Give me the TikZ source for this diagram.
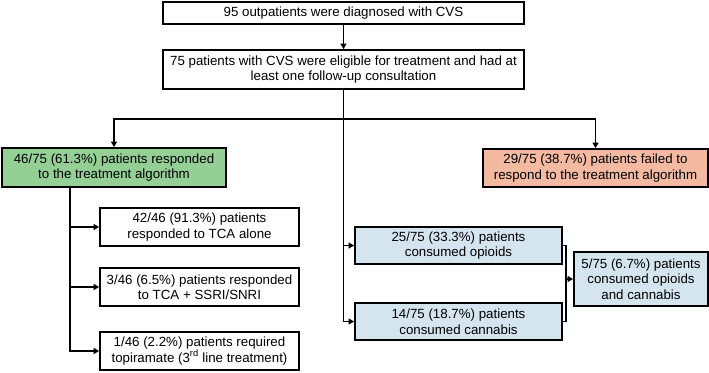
\documentclass[tikz,border=0pt]{standalone}
\usepackage{fontspec}
\setmainfont{Liberation Sans}
\usetikzlibrary{arrows.meta}
\definecolor{gfill}{HTML}{94CF96}
\definecolor{ofill}{HTML}{F3B9A1}
\definecolor{bfill}{HTML}{D5E5F0}
\tikzset{
  box/.style={draw, line width=1.8pt, inner sep=0pt, align=center,
    font=\fontsize{13.3}{15.5}\selectfont},
  conn/.style={line width=1.8pt},
  arr/.style={conn, -{Triangle[length=5.5pt,width=6pt]}}
}
\begin{document}
\begin{tikzpicture}[x=1pt,y=1pt]
\useasboundingbox (0,0) rectangle (709,-372);
\node[box, minimum width=361pt, minimum height=22pt] (b1) at (343.5,-13) {95 outpatients were diagnosed with CVS};
\node[box, minimum width=361pt, minimum height=39pt] (b2) at (343.5,-69.5) {75 patients with CVS were eligible for treatment and had at\\least one follow-up consultation};
\node[box, fill=gfill, minimum width=224pt, minimum height=39pt] (green) at (114,-167.5) {46/75 (61.3\%) patients responded\\to the treatment algorithm};
\node[box, fill=ofill, minimum width=225pt, minimum height=38pt] (orange) at (595.5,-168) {29/75 (38.7\%) patients failed to\\respond to the treatment algorithm};
\node[box, minimum width=199pt, minimum height=38pt] (l1) at (199.5,-227) {42/46 (91.3\%) patients\\responded to TCA alone};
\node[box, minimum width=199pt, minimum height=38pt] (l2) at (199.5,-287) {3/46 (6.5\%) patients responded\\to TCA + SSRI/SNRI};
\node[box, minimum width=199pt, minimum height=38pt] (l3) at (199.5,-351) {1/46 (2.2\%) patients required\\topiramate (3\textsuperscript{rd} line treatment)};
\node[box, fill=bfill, minimum width=207pt, minimum height=37pt] (o1) at (458.5,-245.5) {25/75 (33.3\%) patients\\consumed opioids};
\node[box, fill=bfill, minimum width=207pt, minimum height=37pt] (c1) at (458.5,-321.5) {14/75 (18.7\%) patients\\consumed cannabis};
\node[box, fill=bfill, minimum width=134pt, minimum height=54pt] (both) at (641,-279) {5/75 (6.7\%) patients\\consumed opioids\\and cannabis};
\coordinate (j) at (343.5,-119);
\coordinate (br) at (566,-279);
\draw[arr] (b1) -- (b2);
\draw[conn] (b2.south) -- (j);
\draw[arr] (j) -| (green.north);
\draw[arr] (j) -| (orange.north);
\draw[arr] (j) |- (o1.west);
\draw[arr] (j) |- (c1.west);
\draw[arr] ([xshift=-44pt]green.south) |- (l1.west);
\draw[arr] ([xshift=-44pt]green.south) |- (l2.west);
\draw[arr] ([xshift=-44pt]green.south) |- (l3.west);
\draw[conn] (o1.east) -| (br) |- (c1.east);
\draw[arr] (br) -- (both.west);
\end{tikzpicture}
\end{document}
